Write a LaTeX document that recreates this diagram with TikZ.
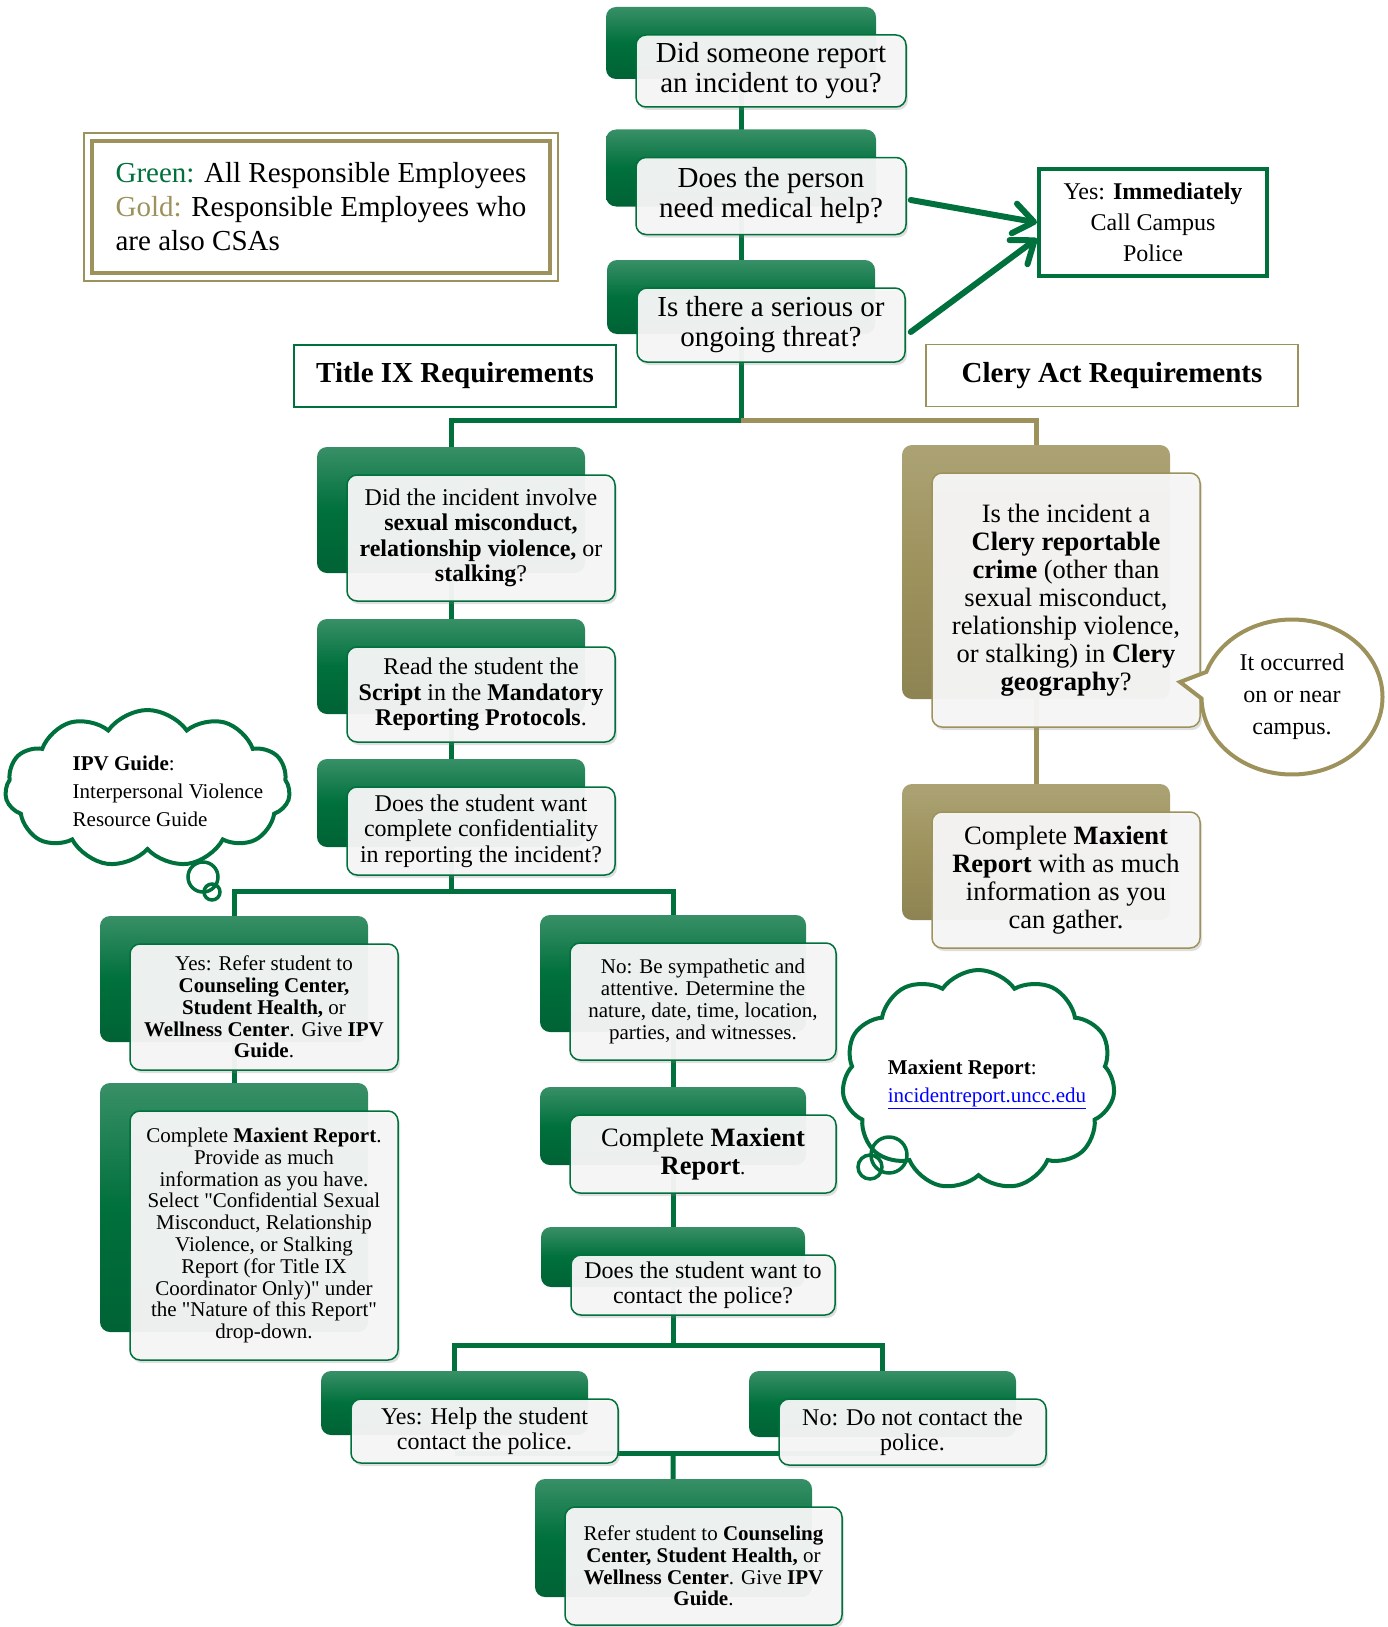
\documentclass[tikz,border=0pt]{standalone}
\usepackage{fontspec}
\setmainfont{Liberation Serif}[Ligatures=TeXOff]
\usetikzlibrary{shapes.symbols,shapes.callouts,shadows,backgrounds,arrows.meta}
\definecolor{uncgreen}{RGB}{0,112,60}
\definecolor{uncgold}{RGB}{157,146,92}
\newcommand{\fsQ}{\fontsize{29}{30}\selectfont}
\newcommand{\fsM}{\fontsize{26.5}{28}\selectfont}
\newcommand{\fsN}{\fontsize{24}{25.5}\selectfont}
\newcommand{\fsS}{\fontsize{21}{21.8}\selectfont}
\tikzset{
  greenback/.style={rectangle, rounded corners=10pt, draw=none,
    top color=uncgreen!78!white, bottom color=uncgreen!88!black, middle color=uncgreen},
  goldback/.style={rectangle, rounded corners=10pt, draw=none,
    top color=uncgold!85!white, bottom color=uncgold!90!black, middle color=uncgold},
  greenfront/.style={rectangle, rounded corners=10pt, draw=uncgreen, line width=1.5pt,
    fill=black!3, fill opacity=0.95, text opacity=1, align=center,
    drop shadow={shadow xshift=2pt, shadow yshift=-3pt, opacity=0.25}},
  goldfront/.style={greenfront, draw=uncgold},
  greenline/.style={draw=uncgreen, line width=5pt},
  goldline/.style={draw=uncgold, line width=5pt},
  headbox/.style={rectangle, draw=#1, line width=1.2pt, fill=white,
    font=\bfseries\fsQ, minimum height=62pt},
  legendbox/.style={rectangle, draw=uncgold, line width=4pt, fill=white, align=left,
    font=\fontsize{29}{34}\selectfont, minimum width=458pt, minimum height=132pt},
  callbox/.style={rectangle, draw=uncgreen, line width=4pt, fill=white, align=center,
    font=\fontsize{24}{31}\selectfont, minimum width=228pt, minimum height=107pt},
  callarrow/.style={draw=uncgreen, line width=6pt, line cap=round,
    -{Straight Barb[length=20pt,width=30pt,round]}},
  thought/.style={cloud, cloud puffs=11, cloud puff arc=110, draw=uncgreen,
    line width=4pt, fill=white, inner sep=0pt},
  bubble/.style={circle, draw=uncgreen, line width=3.5pt, inner sep=0pt},
  cloudtext/.style={align=left, font=\fontsize{21}{28}\selectfont},
  talk/.style={ellipse callout, draw=uncgold, line width=4pt, fill=white, align=center,
    callout pointer arc=20, font=\fontsize{24}{32}\selectfont}
}
% back box at #3, front box shifted right and down
\newcommand{\flowstep}[7][green]{%
  \node[#1back, minimum width=#4, minimum height=#5] (#2b) at (#3) {};
  \node[#1front, minimum width=#4, minimum height=#5, font=#6] (#2)
    at ([shift={(30,28)}]#2b.center) {#7};%
}
\begin{document}
\begin{tikzpicture}[x=1pt,y=-1pt]
  \useasboundingbox (0,0) rectangle (1388,1627);

  % legend and headings
  \node[legendbox] (legend) at (321,207)
    {\textcolor{uncgreen}{Green:} All Responsible Employees\\
     \textcolor{uncgold}{Gold:} Responsible Employees who\\
     are also CSAs};
  \draw[uncgold, line width=1.2pt] ([shift={(-6,-6)}]legend.north west)
    rectangle ([shift={(6,6)}]legend.south east);
  \node[headbox=uncgreen, minimum width=322pt] (titleix) at (455,376) {Title IX Requirements};
  \node[headbox=uncgold, minimum width=372pt] (clery) at (1112,375.5) {Clery Act Requirements};

  % first questions
  \flowstep{Q1}{741,43}{270pt}{72pt}{\fsQ}{Did someone report\\an incident to you?}
  \flowstep{Q2}{741,168}{270pt}{77pt}{\fsQ}{Does the person\\need medical help?}
  \flowstep{Q3}{741,297}{268pt}{74pt}{\fsQ}{Is there a serious or\\ongoing threat?}
  \node[callbox] (police) at (1153,222.5) {Yes: \textbf{Immediately}\\Call Campus\\Police};
  \draw[callarrow] ([shift={(4,4)}]Q2.east) -- (police.west);
  \draw[callarrow] ([shift={(5,7)}]Q3.east) -- ([shift={(0,16)}]police.west);

  % Title IX side
  \flowstep{L1}{451,510}{268pt}{126pt}{\fsN}{Did the incident involve\\
    \textbf{sexual misconduct,}\\\textbf{relationship violence,} or\\\textbf{stalking}?}
  \flowstep{L2}{451,666.5}{268pt}{95pt}{\fsN}{Read the student the\\
    \textbf{Script} in the \textbf{Mandatory}\\\textbf{Reporting Protocols}.}
  \flowstep{L3}{451,803}{268pt}{88pt}{\fsN}{Does the student want\\
    complete confidentiality\\in reporting the incident?}
  \flowstep{Y1}{234,979}{268pt}{126pt}{\fsS}{Yes: Refer student to\\
    \textbf{Counseling Center,}\\\textbf{Student Health,} or\\
    \textbf{Wellness Center}. Give \textbf{IPV}\\\textbf{Guide}.}
  \flowstep{Y2}{234,1207.5}{268pt}{249pt}{\fsS}{Complete \textbf{Maxient Report}.\\
    Provide as much\\information as you have.\\Select "Confidential Sexual\\
    Misconduct, Relationship\\Violence, or Stalking\\Report (for Title IX\\
    Coordinator Only)" under\\the "Nature of this Report"\\drop-down.}
  \flowstep{N1}{673,973.5}{266pt}{117pt}{\fsS}{No: Be sympathetic and\\
    attentive. Determine the\\nature, date, time, location,\\parties, and witnesses.}
  \flowstep{N2}{673,1126}{266pt}{78pt}{\fsM}{Complete \textbf{Maxient}\\\textbf{Report}{\fsS.}}
  \flowstep{N3}{673,1257}{264pt}{60pt}{\fsN}{Does the student want to\\contact the police?}
  \flowstep{P1}{454.5,1403}{267pt}{64pt}{\fsN}{Yes: Help the student\\contact the police.}
  \flowstep{P2}{882.5,1404}{267pt}{66pt}{\fsN}{No: Do not contact the\\police.}
  \flowstep{P3}{673.5,1538}{277pt}{118pt}{\fsS}{Refer student to \textbf{Counseling}\\
    \textbf{Center, Student Health,} or\\\textbf{Wellness Center}. Give \textbf{IPV}\\
    \textbf{Guide}.}

  % Clery side
  \flowstep[gold]{C1}{1036,572}{268pt}{254pt}{\fsM}{Is the incident a\\
    \textbf{Clery reportable}\\\textbf{crime} (other than\\sexual misconduct,\\
    relationship violence,\\or stalking) in \textbf{Clery}\\\textbf{geography}?}
  \flowstep[gold]{C2}{1036,852}{268pt}{136pt}{\fsM}{Complete \textbf{Maxient}\\
    \textbf{Report} with as much\\information as you\\can gather.}
  \node[talk, minimum width=181pt, minimum height=155pt,
    callout absolute pointer={(1180,682)}] (campus) at (1292,697)
    {It occurred\\on or near\\campus.};

  % thought clouds
  \node[thought, aspect=1.8, minimum width=285pt, minimum height=157pt] (ipv) at (147.5,788.5) {};
  \node[bubble, minimum size=30pt] (ipvbig) at (203,877) {};
  \node[bubble, minimum size=16pt] (ipvsmall) at (212,892) {};
  \node[cloudtext] (ipvtext) at (168,791)
    {\textbf{IPV Guide}:\\Interpersonal Violence\\Resource Guide};
  \node[thought, aspect=1.25, minimum width=273pt, minimum height=220pt] (maxcloud) at (978.5,1080) {};
  \node[bubble, minimum size=36pt] (maxbig) at (889,1155) {};
  \node[bubble, minimum size=24pt] (maxsmall) at (870,1167) {};
  \node[cloudtext] (maxtext) at (987,1084)
    {\textbf{Maxient Report}:\\\textcolor{blue}{\underline{incidentreport.uncc.edu}}};

  % connectors
  \begin{scope}[on background layer]
    \coordinate (s1) at (741,420);
    \coordinate (s2) at (451,891);
    \coordinate (s3) at (673,1345);
    \coordinate (s4) at (673,1453);
    \draw[greenline] (Q1b.center) -- (Q3b.center) -- (s1) -| (L1b.center);
    \draw[goldline] (s1) -| (C1b.center);
    \draw[goldline] (C1b.center) -- (C2b.center);
    \draw[greenline] (L1b.center) -- (L3b.center) -- (s2) -| (Y1b.center);
    \draw[greenline] (s2) -| (N1b.center);
    \draw[greenline] (Y1b.center) -- (Y2b.center);
    \draw[greenline] (N1b.center) -- (N3b.center) -- (s3) -| (P1b.center);
    \draw[greenline] (s3) -| (P2b.center);
    \draw[greenline] (P1b.center |- s4) -- (P2b.center |- s4);
    \draw[greenline] (s4) -- (P3b.center);
  \end{scope}
\end{tikzpicture}
\end{document}
